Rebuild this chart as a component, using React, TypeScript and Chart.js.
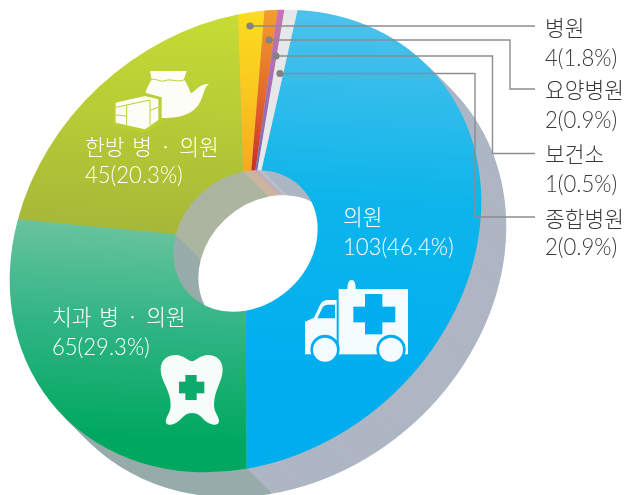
import React, { useEffect, useRef } from "react";
import { Chart, registerables } from "chart.js";

Chart.register(...registerables);

const categories = ["의원", "치과 병 · 의원", "한방 병 · 의원", "병원", "요양병원", "보건소", "종합병원"];
const counts = [103, 65, 45, 4, 2, 1, 2];
const percents = ["46.4", "29.3", "20.3", "1.8", "0.9", "0.5", "0.9"];
const gradientStops = [
  ["#4cc1ec", "#0db5ea", "#00aeef"],
  ["#6cc49f", "#2fb484", "#00a85f"],
  ["#c7dc33", "#b6cb36", "#a6b838"],
  ["#fbdc1e", "#f9c81f", "#f7a91f"],
  ["#f39b2e", "#e56a2a", "#cc2c28"],
  ["#c873b2", "#a070b2", "#7a6db3"],
  ["#e6e7e9", "#e6e7e9", "#e8e9ea"],
];
const wallColors = ["#aeb6c4", "#97acab", "#abb5a0", "#c9b6a0", "#cfb0a8", "#b9a9c0", "#b4c4cc"];

const FONT_KR = '"Noto Sans CJK KR", "Noto Sans", sans-serif';
const FONT_NUM = 'Lato, Roboto, sans-serif';

const CX = 245.5;
const CY = 241;
const R = 232;

function applyDisc(ctx: CanvasRenderingContext2D, ox: number, oy: number, ax: number, ay: number) {
  ctx.translate(CX + ox, CY + oy);
  ctx.transform(230 / R, 12 / R, -52 / R, 231 / R, 0, 0);
  ctx.translate(-ax, -ay);
}

const discPlugin = {
  id: "disc",
  beforeDatasetsDraw(chart: any) {
    const ctx = chart.ctx as CanvasRenderingContext2D;
    const arcs = chart.getDatasetMeta(0).data;
    const ax = arcs[0].x;
    const ay = arcs[0].y;
    for (let k = 25; k >= 1; k--) {
      ctx.save();
      applyDisc(ctx, k, k, ax, ay);
      arcs.forEach((arc: any, i: number) => {
        const opts = arc.options;
        arc.options = Object.create(opts, { backgroundColor: { value: wallColors[i] } });
        arc.draw(ctx);
        arc.options = opts;
      });
      ctx.restore();
    }
    ctx.save();
    applyDisc(ctx, 0, 0, ax, ay);
  },
  afterDatasetsDraw(chart: any) {
    const ctx = chart.ctx as CanvasRenderingContext2D;
    ctx.restore();
    drawIcons(ctx);
    drawLeaders(ctx);
    drawLabels(ctx);
  },
};

function drawIcons(ctx: CanvasRenderingContext2D) {
  const white = "rgba(255,255,255,0.96)";
  // ambulance
  ctx.save();
  ctx.translate(290, 190);
  ctx.scale(1 / 3, 1 / 3);
  const blue = "#00aeef";
  ctx.fillStyle = white;
  ctx.beginPath();
  ctx.moveTo(172, 297);
  ctx.quadraticCurveTo(172, 270, 185, 270);
  ctx.quadraticCurveTo(197, 270, 197, 297);
  ctx.closePath();
  ctx.fill();
  ctx.fillRect(146, 297, 208, 196);
  ctx.beginPath();
  ctx.moveTo(45, 395);
  ctx.lineTo(72, 383);
  ctx.lineTo(90, 345);
  ctx.quadraticCurveTo(97, 330, 115, 330);
  ctx.lineTo(140, 330);
  ctx.lineTo(140, 493);
  ctx.lineTo(45, 493);
  ctx.closePath();
  ctx.fill();
  ctx.fillStyle = blue;
  ctx.beginPath();
  ctx.moveTo(82, 385);
  ctx.lineTo(98, 352);
  ctx.quadraticCurveTo(102, 344, 112, 344);
  ctx.lineTo(135, 344);
  ctx.lineTo(135, 385);
  ctx.closePath();
  ctx.fill();
  ctx.fillRect(225, 312, 52, 121);
  ctx.fillRect(190, 350, 126, 47);
  for (const wx of [105, 303]) {
    ctx.fillStyle = blue;
    ctx.beginPath();
    ctx.arc(wx, 478, 44, 0, Math.PI * 2);
    ctx.fill();
    ctx.fillStyle = white;
    ctx.beginPath();
    ctx.arc(wx, 479, 36, 0, Math.PI * 2);
    ctx.fill();
  }
  ctx.restore();

  // tooth
  ctx.save();
  ctx.translate(30, 290);
  ctx.scale(1 / 3, 1 / 3);
  ctx.fillStyle = white;
  ctx.beginPath();
  ctx.moveTo(392, 238);
  ctx.bezierCurveTo(392, 205, 420, 193, 442, 195);
  ctx.bezierCurveTo(460, 197, 475, 212, 486, 214);
  ctx.bezierCurveTo(497, 212, 510, 197, 530, 195);
  ctx.bezierCurveTo(555, 193, 578, 208, 578, 238);
  ctx.bezierCurveTo(578, 275, 552, 300, 552, 345);
  ctx.bezierCurveTo(552, 370, 572, 385, 566, 398);
  ctx.bezierCurveTo(555, 412, 530, 400, 515, 382);
  ctx.bezierCurveTo(500, 365, 472, 365, 458, 382);
  ctx.bezierCurveTo(440, 402, 418, 412, 408, 398);
  ctx.bezierCurveTo(404, 385, 422, 370, 422, 345);
  ctx.bezierCurveTo(422, 300, 392, 275, 392, 238);
  ctx.closePath();
  ctx.fill();
  ctx.fillStyle = "#0cab6c";
  ctx.fillRect(466, 255, 34, 75);
  ctx.fillRect(447, 275, 76, 35);
  ctx.restore();

  // teapot and rice cakes
  ctx.save();
  ctx.translate(30, 50);
  ctx.scale(1 / 3, 1 / 3);
  ctx.fillStyle = white;
  ctx.beginPath();
  ctx.moveTo(360, 63);
  ctx.lineTo(470, 63);
  ctx.lineTo(462, 88);
  ctx.bezierCurveTo(470, 100, 478, 115, 482, 130);
  ctx.bezierCurveTo(500, 122, 505, 102, 537, 101);
  ctx.bezierCurveTo(520, 112, 522, 140, 505, 165);
  ctx.bezierCurveTo(485, 195, 440, 207, 385, 203);
  ctx.lineTo(360, 170);
  ctx.bezierCurveTo(345, 150, 345, 130, 350, 118);
  ctx.bezierCurveTo(355, 105, 360, 98, 365, 88);
  ctx.closePath();
  ctx.fill();
  ctx.strokeStyle = "#bcd136";
  ctx.lineWidth = 3;
  ctx.beginPath();
  ctx.moveTo(363, 90);
  ctx.bezierCurveTo(380, 82, 385, 98, 405, 92);
  ctx.bezierCurveTo(425, 84, 440, 100, 466, 88);
  ctx.stroke();
  ctx.fillStyle = "#bacf36";
  ctx.beginPath();
  ctx.moveTo(248, 150);
  ctx.lineTo(345, 128);
  ctx.lineTo(395, 142);
  ctx.lineTo(395, 222);
  ctx.lineTo(345, 248);
  ctx.lineTo(248, 228);
  ctx.closePath();
  ctx.fill();
  ctx.fillStyle = white;
  ctx.beginPath();
  ctx.moveTo(257, 158);
  ctx.lineTo(345, 138);
  ctx.lineTo(385, 148);
  ctx.lineTo(385, 210);
  ctx.lineTo(345, 238);
  ctx.lineTo(257, 218);
  ctx.closePath();
  ctx.fill();
  ctx.strokeStyle = "#bacf36";
  ctx.lineWidth = 3;
  ctx.beginPath();
  ctx.moveTo(258, 172);
  ctx.lineTo(290, 165);
  ctx.lineTo(360, 150);
  ctx.moveTo(290, 165);
  ctx.lineTo(290, 225);
  ctx.moveTo(360, 150);
  ctx.lineTo(360, 225);
  ctx.moveTo(258, 195);
  ctx.lineTo(288, 198);
  ctx.moveTo(362, 180);
  ctx.lineTo(385, 172);
  ctx.stroke();
  ctx.restore();
}

function drawLeaders(ctx: CanvasRenderingContext2D) {
  const leaders = [
    [[250, 26], [535, 26]],
    [[269, 40], [510, 40], [510, 89], [535, 89]],
    [[276, 56], [492.5, 56], [492.5, 153.5], [535, 153.5]],
    [[280, 73.5], [475, 73.5], [475, 217], [535, 217]],
  ];
  ctx.save();
  ctx.strokeStyle = "#8b8d90";
  ctx.fillStyle = "#808285";
  ctx.lineWidth = 1.4;
  for (const pts of leaders) {
    ctx.beginPath();
    pts.forEach(([x, y], i) => (i ? ctx.lineTo(x, y) : ctx.moveTo(x, y)));
    ctx.stroke();
    ctx.beginPath();
    ctx.arc(pts[0][0], pts[0][1], 3.6, 0, Math.PI * 2);
    ctx.fill();
  }
  ctx.restore();
}

function drawLabels(ctx: CanvasRenderingContext2D) {
  const spots: [number, number, number, number, string][] = [
    [0, 343, 225, 255, "#ffffff"],
    [1, 52, 325, 355, "#ffffff"],
    [2, 85, 155, 183, "#ffffff"],
    [3, 545, 36, 66, "#3a3a3c"],
    [4, 545, 98, 128, "#3a3a3c"],
    [5, 545, 162, 192, "#3a3a3c"],
    [6, 545, 227, 255, "#3a3a3c"],
  ];
  ctx.save();
  ctx.textBaseline = "alphabetic";
  ctx.textAlign = "left";
  for (const [i, x, y1, y2, color] of spots) {
    ctx.fillStyle = color;
    ctx.font = `300 21.5px ${FONT_KR}`;
    (ctx as any).wordSpacing = "3px";
    ctx.fillText(categories[i], x, y1);
    (ctx as any).wordSpacing = "0px";
    ctx.font = `300 24px ${FONT_NUM}`;
    const text = `${counts[i]}(${percents[i]}%)`;
    ctx.fillText(text, x, y2, ctx.measureText(text).width * 0.92);
  }
  ctx.restore();
}

export default function App() {
  const ref = useRef<HTMLCanvasElement>(null);
  useEffect(() => {
    document.body.style.margin = "0";
    const canvas = ref.current!;
    const c = canvas.getContext("2d")!;
    const toUser = (dy: number) => ((dy - CY) * R) / 231 + CY;
    const ranges = [[15, 370], [225, 440], [15, 235], [15, 172], [15, 172], [15, 172], [15, 172]];
    const fills = gradientStops.map((stops, i) => {
      const g = c.createLinearGradient(0, toUser(ranges[i][0]), 0, toUser(ranges[i][1]));
      g.addColorStop(0, stops[0]);
      g.addColorStop(0.5, stops[1]);
      g.addColorStop(1, stops[2]);
      return g;
    });
    const chart = new Chart(canvas, {
      type: "doughnut",
      data: {
        labels: categories,
        datasets: [
          {
            data: counts,
            backgroundColor: fills,
            borderWidth: 0,
            clip: false,
          } as any,
        ],
      },
      options: {
        responsive: false,
        animation: false,
        events: [],
        rotation: 0,
        cutout: "30.6%",
        layout: { padding: { left: CX - R, right: 627 - CX - R, top: CY - R, bottom: 495 - CY - R } },
        plugins: { legend: { display: false }, tooltip: { enabled: false }, title: { display: false } },
      },
      plugins: [discPlugin],
    });
    return () => chart.destroy();
  }, []);
  return (
    <canvas
      ref={ref}
      width={627}
      height={495}
      style={{ position: "absolute", left: 0, top: 0, display: "block" }}
    />
  );
}
